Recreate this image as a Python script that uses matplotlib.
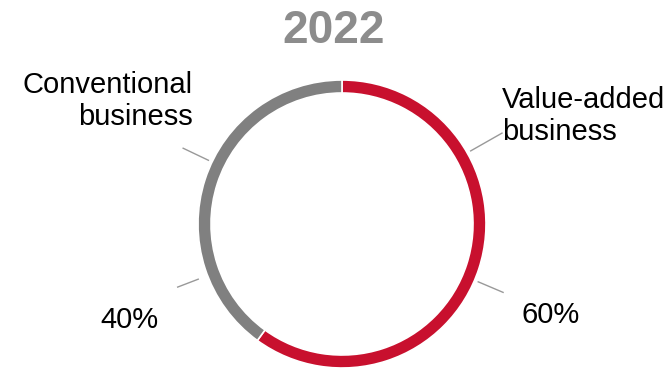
import matplotlib
matplotlib.use('Agg')
import matplotlib.pyplot as plt
import numpy as np

plt.rcParams['font.family'] = ['Liberation Sans', 'DejaVu Sans']

# data
categories = ['Value-added\nbusiness', 'Conventional\nbusiness']
shares = [60, 40]
colors = ['#C8102E', '#808080']
title = '2022'

# layout in pixels (figure is 672 x 373)
W, H = 672, 373
cx, cy = 342, H - 224
R = 144

fig = plt.figure(figsize=(W / 100, H / 100), dpi=100)
ax = fig.add_axes([0, 0, 1, 1])

ax.pie(shares, colors=colors, startangle=90, counterclock=False,
       center=(cx, cy), radius=R, frame=True,
       wedgeprops=dict(width=13, edgecolor='white', linewidth=1.2))
ax.set_xlim(0, W)
ax.set_ylim(0, H)
ax.set_aspect('equal')
ax.axis('off')


def leader(angle, r0, r1):
    a = np.radians(angle)
    ax.plot([cx + r0 * np.cos(a), cx + r1 * np.cos(a)],
            [cy + r0 * np.sin(a), cy + r1 * np.sin(a)],
            color='#999999', lw=1)


# leader lines for names and percentages
leader(29.6, 148, 184)
leader(154.5, 148, 176)
leader(-23, 148, 175)
leader(201, 154, 176)

fs = 21
ax.text(502, H - 116, categories[0], ha='left', va='center',
        fontsize=fs, color='black', linespacing=1.22)
ax.text(193, H - 101, categories[1], ha='right', va='center',
        fontsize=fs, color='black', linespacing=1.15, multialignment='right')
ax.text(551, H - 315, f'{shares[0]}%', ha='center', va='center',
        fontsize=fs, color='black')
ax.text(129, H - 320, f'{shares[1]}%', ha='center', va='center',
        fontsize=fs, color='black')

ax.text(334, H - 31, title, ha='center', va='center',
        fontsize=33, fontweight='bold', color='#8C8C8C')

fig.savefig('out.png', dpi=100, facecolor='white')
